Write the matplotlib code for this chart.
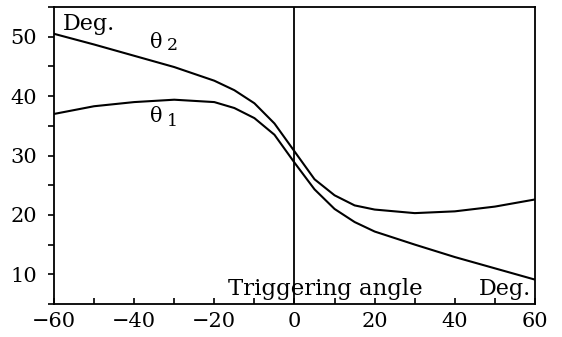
import matplotlib
matplotlib.use('Agg')
import matplotlib.pyplot as plt
from matplotlib.ticker import MultipleLocator

# triggering angle (deg) and the two output angles
angle = [-60, -50, -40, -30, -20, -15, -10, -5, 0, 5, 10, 15, 20, 30, 40, 50, 60]
theta2 = [50.5, 48.7, 46.8, 44.9, 42.6, 41.0, 38.8, 35.4, 30.7, 26.0, 23.3, 21.6, 20.9, 20.3, 20.6, 21.4, 22.6]
theta1 = [37.0, 38.3, 39.0, 39.4, 39.0, 38.0, 36.3, 33.5, 28.8, 24.3, 21.0, 18.8, 17.2, 15.0, 12.9, 11.0, 9.1]

plt.rcParams['font.family'] = ['DejaVu Serif']

fig = plt.figure(figsize=(5.62, 3.37), dpi=100)
ax = fig.add_axes([0.096, 0.098, 0.856, 0.881])

ax.plot(angle, theta2, color='black', lw=1.5)
ax.plot(angle, theta1, color='black', lw=1.5)
ax.axvline(0, color='black', lw=1.3)

ax.set_xlim(-60, 60)
ax.set_ylim(5, 55)
ax.xaxis.set_major_locator(MultipleLocator(20))
ax.xaxis.set_minor_locator(MultipleLocator(10))
ax.yaxis.set_major_locator(MultipleLocator(10))
ax.yaxis.set_minor_locator(MultipleLocator(5))
ax.tick_params(axis='x', which='both', direction='in', length=4, width=1.2, labelsize=15, pad=6)
ax.tick_params(axis='y', which='both', direction='out', length=4, width=1.2, labelsize=15, pad=8)
ax.xaxis.set_major_formatter(plt.FuncFormatter(lambda v, p: f'{int(v)}'.replace('-', '\u2212')))
for s in ax.spines.values():
    s.set_linewidth(1.3)

ax.text(-57.8, 51.2, 'Deg.', fontsize=16, ha='left', va='baseline')
# curve labels: theta with a smaller index set slightly low
ax.text(-36, 48.15, '\u03b8', fontsize=15, ha='left', va='baseline')
ax.text(-31.8, 47.8, '2', fontsize=12.5, ha='left', va='baseline')
ax.text(-36, 35.6, '\u03b8', fontsize=15, ha='left', va='baseline')
ax.text(-31.8, 35.0, '1', fontsize=12.5, ha='left', va='baseline')
ax.text(-16.5, 6.5, 'Triggering angle', fontsize=16.5, ha='left', va='baseline')
ax.text(59.0, 6.5, 'Deg.', fontsize=16, ha='right', va='baseline')

fig.savefig('out.png', dpi=100)
